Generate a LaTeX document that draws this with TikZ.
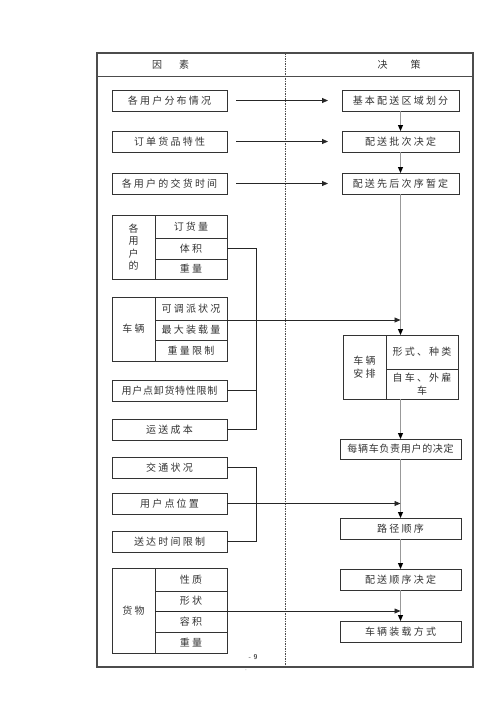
\documentclass[tikz,border=0pt]{standalone}
\usepackage{fontspec}
\newfontfamily\cjk[LetterSpace=22]{Noto Sans CJK SC}
\newfontfamily\cjktight[LetterSpace=7]{Noto Sans CJK SC}
\usepackage{tikz}
\usetikzlibrary{shapes,arrows,arrows.meta}
\usetikzlibrary{positioning}
\usetikzlibrary{calc}
\begin{document}
\begin{tikzpicture}[x=1pt,y=1pt,node distance=20pt,>={Triangle[length=6pt,width=5pt]}]
\tikzstyle{every node}=[font=\cjk\fontsize{10}{12.5}\selectfont,text=black!80]
\tikzstyle{tight}=[font=\cjktight\fontsize{10}{12.5}\selectfont]
\tikzstyle{lbox}=[draw=black!80,line width=1pt,minimum width=115pt,minimum height=21pt,inner sep=0pt,outer sep=0pt]
\tikzstyle{rbox}=[lbox,minimum width=117pt]
\tikzstyle{wbox}=[lbox,minimum width=121pt]
\tikzstyle{head}=[draw=black!80,line width=1pt,minimum width=43pt,inner sep=0pt,outer sep=0pt,align=center]
\tikzstyle{cell}=[draw=black!80,line width=1pt,minimum width=72pt,inner sep=0pt,outer sep=0pt,align=center]
\tikzstyle{flow}=[->,draw=black!85,line width=0.8pt]
\tikzstyle{spine}=[-{Triangle[length=6pt,width=5pt,black]},draw=black!40,line width=1pt]
\tikzstyle{link}=[draw=black!85,line width=0.8pt]
\useasboundingbox (0,0) rectangle (500,-707);
%\path[use as bounding box] (0,0) rectangle (500,-707);
% frame
\draw[black!70,line width=1.2pt] (97,-53) rectangle (473,-667);
\draw[black!70,line width=1pt] (97,-76) -- (473,-76);
\draw[black!70,line width=0.6pt,dash pattern=on 1.5pt off 1pt] (285,-53) -- (285,-667);
\path node (t1) at (170.5,-64.5) {因\hspace{17pt}素};
\path node (t2) at (399,-64.5) {决\hspace{23pt}策};

% left column
\path node[lbox] (l1) at (169.5,-100.5) {各用户分布情况};
\path node[lbox,below=20pt of l1] (l2) {订单货品特性};
\path node[lbox,below=21pt of l2] (l3) {各用户的交货时间};

\path node[head,minimum height=64pt,below right=21pt and 0pt of l3.south west] (a) {各\\用\\户\\的};
\path node[cell,minimum height=23pt,anchor=north west] (a1) at (a.north east) {订货量};
\path node[cell,minimum height=21pt,below=0pt of a1] (a2) {体积};
\path node[cell,minimum height=20pt,below=0pt of a2] (a3) {重量};

\path node[head,minimum height=64pt,below right=18pt and 0pt of a.south west] (b) {车辆};
\path node[cell,minimum height=23pt,anchor=north west] (b1) at (b.north east) {可调派状况};
\path node[cell,minimum height=20pt,below=0pt of b1] (b2) {最大装载量};
\path node[cell,minimum height=21pt,below=0pt of b2] (b3) {重量限制};

\path node[lbox,tight,below right=19pt and 0pt of b.south west] (l4) {用户点卸货特性限制};
\path node[lbox,below=18pt of l4] (l5) {运送成本};
\path node[lbox,below=17pt of l5] (l6) {交通状况};
\path node[lbox,below=15pt of l6] (l7) {用户点位置};
\path node[lbox,below=17pt of l7] (l8) {送达时间限制};

\path node[head,minimum height=85pt,below right=16pt and 0pt of l8.south west] (c) {货物};
\path node[cell,minimum height=23pt,anchor=north west] (c1) at (c.north east) {性质};
\path node[cell,minimum height=20pt,below=0pt of c1] (c2) {形状};
\path node[cell,minimum height=21pt,below=0pt of c2] (c3) {容积};
\path node[cell,minimum height=21pt,below=0pt of c3] (c4) {重量};

% right column
\path node[rbox,right=115pt of l1] (r1) {基本配送区域划分};
\path node[rbox,right=115pt of l2] (r2) {配送批次决定};
\path node[rbox,right=115pt of l3] (r3) {配送先后次序暂定};

\path node[head,minimum height=64pt,below right=141pt and 1pt of r3.south west] (r4) {车辆\\安排};
\path node[cell,minimum height=34pt,anchor=north west] (r4a) at (r4.north east) {形式、种类};
\path node[cell,minimum height=30pt,below=0pt of r4a] (r4b) {自车、外雇\\车};

\path node[wbox,tight,minimum height=20pt,below right=40pt and -3pt of r4.south west] (r5) {每辆车负责用户的决定};
\path node[wbox,below=59pt of r5] (r6) {路径顺序};
\path node[wbox,below=30pt of r6] (r7) {配送顺序决定};
\path node[wbox,below=31pt of r7] (r8) {车辆装载方式};

% connectors
\draw[flow] ([xshift=9pt]l1.east) -- ([xshift=-14pt]r1.west);
\draw[flow] ([xshift=9pt]l2.east) -- ([xshift=-14pt]r2.west);
\draw[flow] ([xshift=9pt]l3.east) -- ([xshift=-14pt]r3.west);

\draw[spine] (r1.south) -- (r2.north);
\draw[spine] (r2.south) -- (r3.north);
\draw[spine] (r3.south) -- (r3.south |- r4.north);
\draw[spine] (r3.south |- r4.south) -- (r5.north);
\draw[spine] (r5.south) -- (r6.north);
\draw[spine] (r6.south) -- (r7.north);
\draw[spine] (r7.south) -- (r8.north);

\draw[link] (a2.east) -- ++(29,0) |- (l5.east);
\draw[link] (l4.east) -- ++(29,0);
\draw[flow] (b1.south east) -- (b1.south east -| r3.south);

\draw[link] (l6.east) -- ++(29,0) |- (l8.east);
\draw[flow] (l7.east) -- (l7.east -| r6.north);

\draw[flow] (c2.south west) -- (c2.south west -| r8.north);

\path node[font=\sffamily\bfseries\fontsize{7}{8}\selectfont,text=black!70] (pg) at (253,-657) {- 9};
\path node[font=\sffamily\fontsize{5}{6}\selectfont,text=black!50] (pm) at (246,-671) {-};
\end{tikzpicture}
\end{document}
